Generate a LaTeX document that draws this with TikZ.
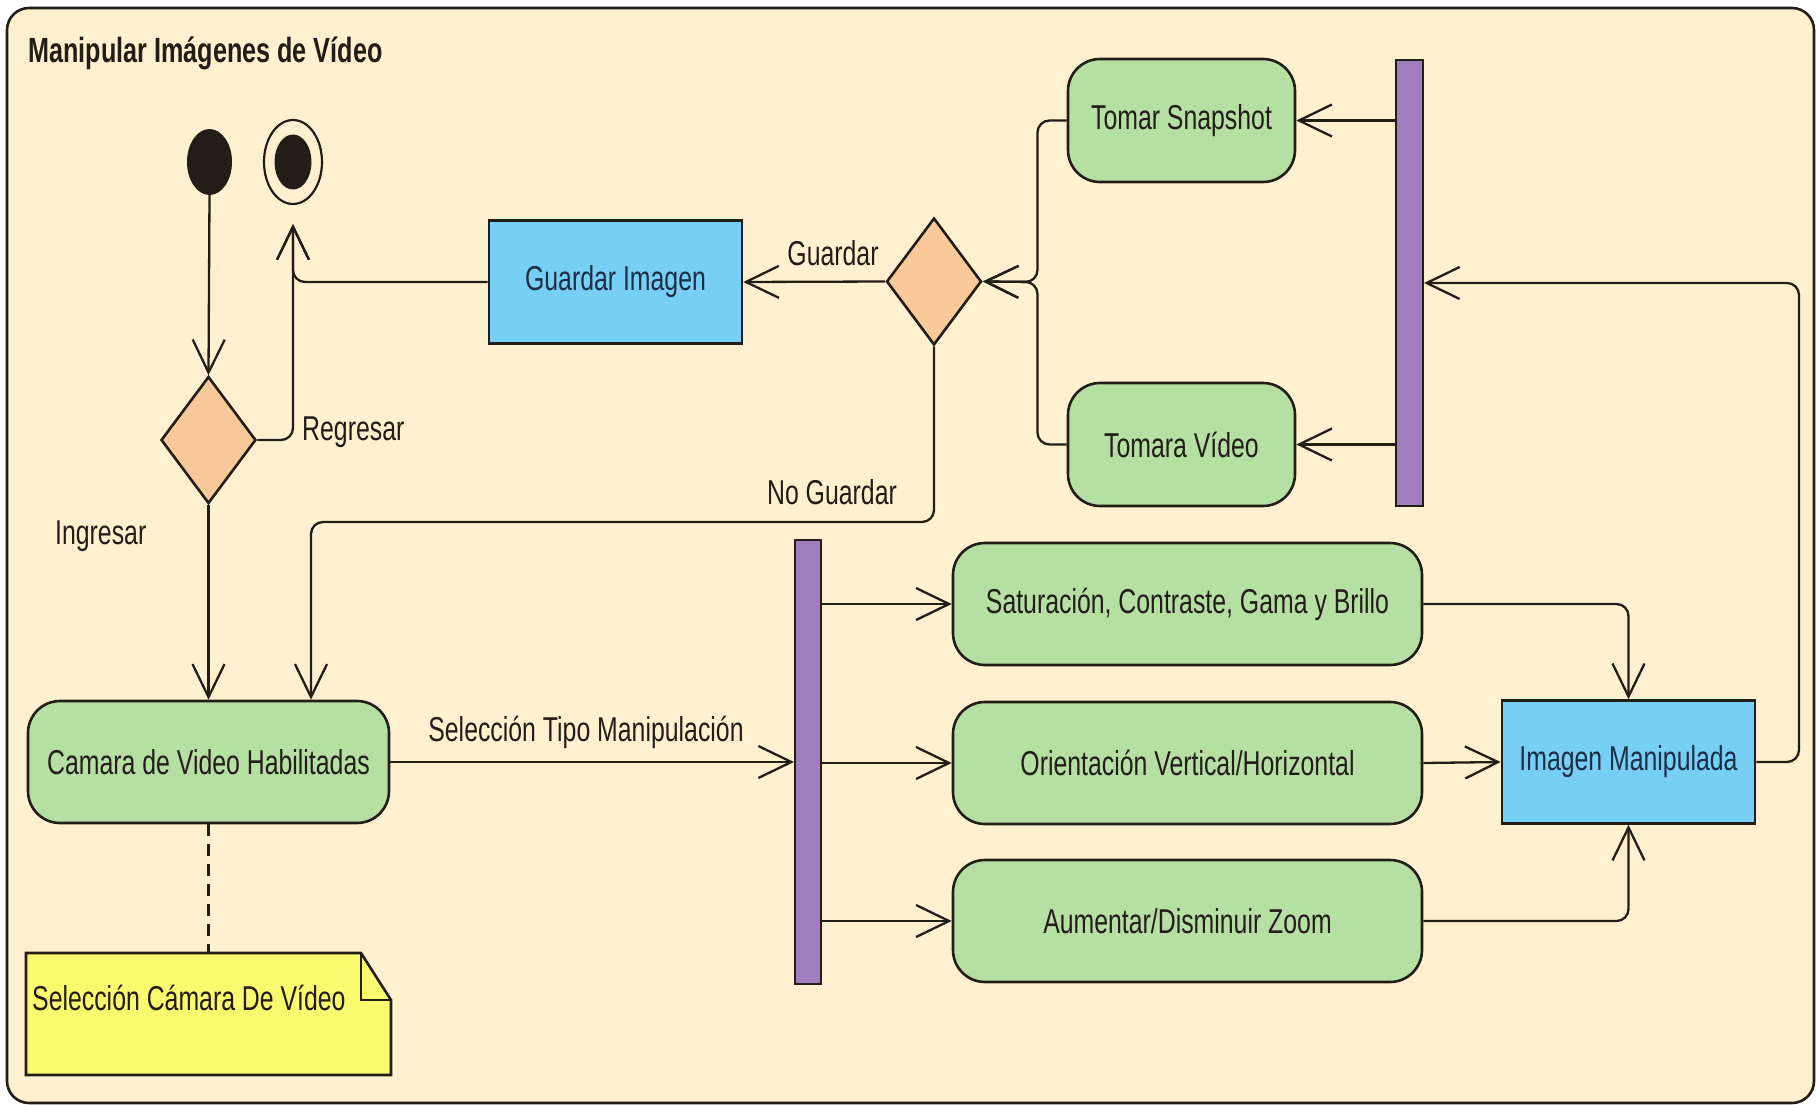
\documentclass[tikz,border=0pt]{standalone}
\usepackage{fontspec}
\setmainfont{Liberation Sans}[FakeStretch=0.72]
\usetikzlibrary{arrows.meta,shapes.geometric,calc}
\definecolor{cream}{HTML}{FFF1D0}
\definecolor{actgreen}{HTML}{B6DFA4}
\definecolor{objblue}{HTML}{77CFF6}
\definecolor{peach}{HTML}{FAC99A}
\definecolor{barpurple}{HTML}{A27DBE}
\definecolor{noteyellow}{HTML}{FAFA6E}
\definecolor{ink}{HTML}{231D17}
\definecolor{navy}{HTML}{1C2E45}
\begin{document}
\begin{tikzpicture}[x=1pt,y=-1pt,
  every node/.style={font=\fontsize{34.5}{40}\selectfont, text=ink},
  actbox/.style={draw=ink, line width=2.6pt, fill=actgreen, rounded corners=32pt, minimum height=122pt, inner sep=0pt},
  objbox/.style={draw=ink, line width=2.6pt, fill=objblue, minimum height=123pt, inner sep=0pt, text=navy},
  decbox/.style={diamond, draw=ink, line width=2.6pt, fill=peach, minimum width=95pt, minimum height=127pt, inner sep=0pt},
  barbox/.style={draw=ink, line width=2pt, fill=barpurple, inner sep=0pt},
  lbl/.style={inner sep=0pt},
  conn/.style={draw=ink, line width=2.3pt, rounded corners=12pt},
  arr/.style={conn, -{Straight Barb[length=33pt,width=32pt]}}]
\useasboundingbox (0,0) rectangle (1820,1105);
\fill[white] (0,0) rectangle (1820,1105);
\draw[ink, line width=2.6pt, fill=cream, rounded corners=22pt] (7,8) rectangle (1814,1103);

\node[lbl, anchor=west, font=\fontsize{35}{40}\selectfont\bfseries] (title) at (28,53) {Manipular Imágenes de Vídeo};

% start / end
\node[ellipse, fill=ink, minimum width=45pt, minimum height=66pt, inner sep=0pt] (init) at (209.5,162) {};
\node[ellipse, draw=ink, line width=2.2pt, fill=cream, minimum width=58pt, minimum height=84pt, inner sep=0pt] (final) at (293,162) {};
\node[ellipse, fill=ink, minimum width=37pt, minimum height=55pt, inner sep=0pt] (finaldot) at (final.center) {};

% decisions
\node[decbox] (dec1) at (208.5,440) {};
\node[decbox] (dec2) at (934,281.5) {};

% objects
\node[objbox, minimum width=253pt] (guardar) at (615.5,282) {Guardar Imagen};
\node[objbox, minimum width=253pt] (imagen) at (1628.5,762) {Imagen Manipulada};

% activities
\node[actbox, minimum width=361pt] (camara) at (208.5,762) {Camara de Video Habilitadas};
\node[actbox, minimum width=227pt, minimum height=123pt] (snap) at (1181.5,120.5) {Tomar Snapshot};
\node[actbox, minimum width=227pt, minimum height=123pt] (video) at (1181.5,444.5) {Tomara Vídeo};
\node[actbox, minimum width=469pt] (sat) at (1187.5,604) {Saturación, Contraste, Gama y Brillo};
\node[actbox, minimum width=469pt] (ori) at (1187.5,763) {Orientación Vertical/Horizontal};
\node[actbox, minimum width=469pt] (aum) at (1187.5,921) {Aumentar/Disminuir Zoom};

% fork bars
\node[barbox, minimum width=26pt, minimum height=444pt] (fork1) at (808,762) {};
\node[barbox, minimum width=27pt, minimum height=446pt] (fork2) at (1409.5,283) {};

% note
\draw[ink, line width=2.6pt, fill=noteyellow] (26,953) -- (361,953) -- (391,1000) -- (391,1075) -- (26,1075) -- cycle;
\draw[ink, line width=2.2pt] (361,953) -- (361,1000) -- (391,1000);
\node[lbl, anchor=west] (notetext) at (32,998) {Selección Cámara De Vídeo};
\coordinate (notetop) at (208.5,953);
\draw[conn, dash pattern=on 12pt off 8pt] (camara.south) -- (notetop);

% connectors
\draw[arr] (init.south) -- (dec1.north);
\draw[arr, shorten >=19pt] (dec1.east) -| (final.south);
\draw[arr, shorten >=19pt] (guardar.west) -| (final.south);
\draw[arr] (dec1.south) -- (camara.north);
\draw[arr] (dec2.south) |- (311,522) -- ([xshift=102.5pt]camara.north);
\draw[arr] (dec2.west) -- (guardar.east);
\draw[arr] (snap.west) -| (1037.5,282) -- (dec2.east);
\draw[arr] (video.west) -| (1037.5,282) -- (dec2.east);
\draw[arr] (fork2.west |- snap.east) -- (snap.east);
\draw[arr] (fork2.west |- video.east) -- (video.east);
\draw[arr] (camara.east) -- (fork1.west |- camara.east);
\draw[arr] (fork1.east |- sat.west) -- (sat.west);
\draw[arr] (fork1.east |- ori.west) -- (ori.west);
\draw[arr] (fork1.east |- aum.west) -- (aum.west);
\draw[arr] (sat.east) -| (imagen.north);
\draw[arr] (ori.east) -- (imagen.west);
\draw[arr] (aum.east) -| (imagen.south);
\draw[arr] (imagen.east) -| (1799,283) -- (fork2.east);

% labels
\node[lbl, anchor=west] (lregresar) at (302,432) {Regresar};
\node[lbl, anchor=west] (lingresar) at (55,536) {Ingresar};
\node[lbl] (lguardar) at (833,253) {Guardar};
\node[lbl] (lnoguardar) at (832,492) {No Guardar};
\node[lbl] (lsel) at (586,732) {Selección Tipo Manipulación};
\end{tikzpicture}
\end{document}
